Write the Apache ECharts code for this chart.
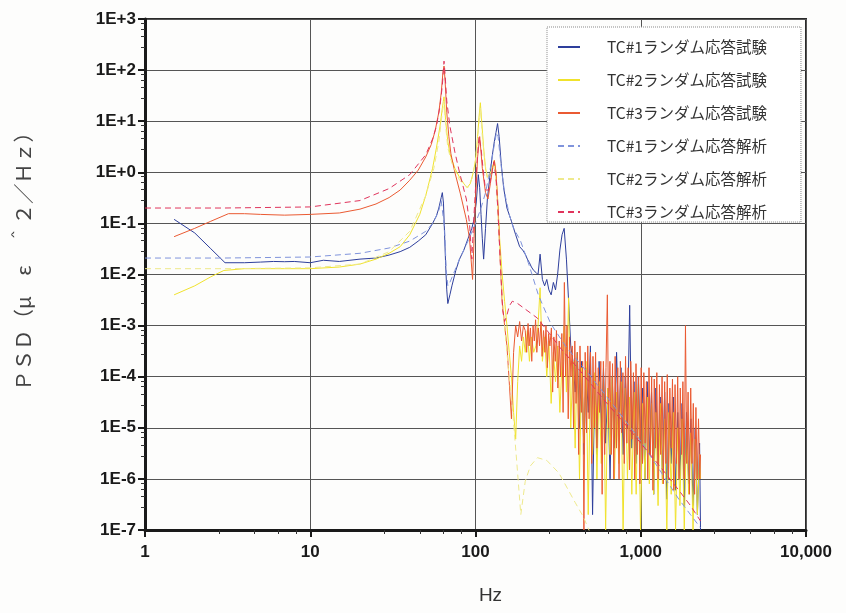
<!DOCTYPE html>
<html>
<head>
<meta charset="utf-8">
<script src="https://cdn.jsdelivr.net/npm/echarts@6/dist/echarts.min.js"></script>
<style>
html,body{margin:0;padding:0;background:#fdfdfc;}
#chart{width:846px;height:613px;}
</style>
</head>
<body>
<div id="chart"></div>
<script>
// ---- tick labels ----
const xTickLabels = ['1', '10', '100', '1,000', '10,000'];      // 10^0 .. 10^4
const yTickLabels = ['1E-7', '1E-6', '1E-5', '1E-4', '1E-3', '1E-2', '1E-1', '1E+0', '1E+1', '1E+2', '1E+3'];
const seriesNames = ['TC#1ランダム応答試験', 'TC#2ランダム応答試験', 'TC#3ランダム応答試験',
                     'TC#1ランダム応答解析', 'TC#2ランダム応答解析', 'TC#3ランダム応答解析'];

// ---- test data, smooth low-frequency part ----
const tc1TestF = [1.5, 2, 2.5, 3.05, 4, 5, 6, 7, 8, 10, 12, 15, 20, 25, 30, 35, 40, 45, 50, 55, 58, 60, 62, 63, 64, 65, 66, 67, 68, 70, 72, 76, 80, 85, 90, 95, 98, 101, 104, 106, 108, 110, 112, 115, 118, 122, 126, 130, 133, 136, 139, 143, 148, 155, 165, 175, 185, 193];
const tc1TestV = [0.12, 0.065, 0.032, 0.017, 0.017, 0.0175, 0.018, 0.0178, 0.018, 0.017, 0.019, 0.018, 0.02, 0.021, 0.024, 0.028, 0.034, 0.045, 0.06, 0.1, 0.14, 0.2, 0.32, 0.4, 0.25, 0.06, 0.015, 0.005, 0.0027, 0.004, 0.006, 0.012, 0.02, 0.03, 0.05, 0.08, 0.12, 0.25, 0.9, 0.5, 0.15, 0.05, 0.02, 0.08, 0.3, 0.8, 2, 4, 6, 9, 5, 1.5, 0.5, 0.2, 0.11, 0.06, 0.035, 0.03];

const tc2TestF = [1.5, 2, 2.5, 3, 4, 5, 7, 10, 15, 20, 25, 30, 35, 40, 46, 50, 55, 58, 61, 63, 64.5, 66, 68, 70, 75, 80, 85, 89, 93, 97, 100, 103, 105, 107, 109, 112, 115, 118, 122, 126, 130, 133, 136, 140, 145, 150, 155, 160, 165, 170, 175, 180, 185, 190, 195];
const tc2TestV = [0.004, 0.006, 0.009, 0.012, 0.013, 0.013, 0.013, 0.013, 0.014, 0.016, 0.02, 0.026, 0.035, 0.06, 0.15, 0.35, 1.2, 3, 8, 18, 30, 10, 4, 2.3, 1.2, 0.8, 0.6, 0.5, 0.6, 1.0, 1.7, 5, 12, 23, 10, 3, 1.2, 0.8, 0.9, 1.2, 1.7, 1.0, 0.3, 0.05, 0.01, 3e-3, 1e-3, 3e-4, 1e-4, 2e-5, 6e-6, 8e-5, 4e-4, 2e-4, 6e-4];

const tc3TestF = [1.5, 2, 2.5, 3.2, 4, 5, 7, 10, 15, 20, 25, 30, 35, 40, 45, 50, 54, 57, 60, 62, 63.5, 64.5, 65.5, 67, 69, 71, 75, 81, 88, 92, 94, 96, 98, 100, 103, 106, 108, 110, 115, 119, 123, 127, 130, 133, 137, 141, 145, 150, 155, 160, 165, 170, 175, 180, 185, 190, 195];
const tc3TestV = [0.055, 0.08, 0.11, 0.155, 0.155, 0.15, 0.145, 0.15, 0.16, 0.19, 0.24, 0.32, 0.45, 0.7, 1.1, 2, 3.5, 6.5, 15, 35, 90, 120, 60, 15, 5, 2.3, 1.0, 0.38, 0.12, 0.05, 0.02, 0.008, 0.05, 0.3, 2, 5, 2.5, 1.2, 0.4, 0.3, 0.6, 1.2, 1.7, 1.0, 0.2, 0.02, 3e-3, 1e-3, 4e-4, 8e-5, 1.5e-5, 3e-4, 1e-3, 6e-4, 1.2e-3, 5e-4, 1e-3];

// ---- test data, noisy high-frequency part ----
const noiseF = [200, 206, 212, 218, 225, 232, 239, 246, 254, 262, 270, 278, 287, 296, 305, 314, 324, 334, 344, 355,
  366, 377, 389, 401, 413, 426, 439, 453, 467, 481, 496, 511, 527, 543, 560, 577, 595, 613, 632, 652,
  672, 693, 714, 736, 759, 782, 806, 831, 857, 883, 910, 938, 967, 997, 1028, 1060, 1093, 1127, 1162, 1198,
  1235, 1273, 1312, 1353, 1395, 1438, 1482, 1528, 1575, 1624, 1674, 1726, 1779, 1834, 1891, 1950, 2010, 2072, 2136, 2202, 2270, 2300];
const tc1NoiseV = [0.025, 0.02, 0.017, 0.014, 0.012, 0.011, 0.01, 0.025, 0.008, 0.006,
  0.008, 0.005, 0.004, 0.007, 0.005, 0.01, 0.03, 0.06, 0.08, 0.02,
  0.003, 4e-4, 2e-4, 5e-5, 3e-4, 1e-5, 2e-4, 3e-6, 1.5e-4, 2e-5,
  4e-4, 2e-7, 1e-4, 3e-6, 2e-4, 1e-5, 1.5e-4, 5e-6, 6e-5, 1e-6,
  1e-4, 4e-6, 3e-4, 1e-5, 1.5e-4, 3e-6, 1e-4, 1e-5, 2.5e-3, 4e-6,
  8e-5, 2e-6, 1e-4, 5e-6, 6e-5, 1e-6, 8e-5, 3e-6, 5e-5, 5e-7,
  6e-5, 2e-6, 4e-5, 1e-6, 5e-5, 4e-7, 3e-5, 2e-6, 4e-5, 6e-7,
  2e-5, 1e-6, 3e-5, 3e-7, 2e-5, 8e-7, 1.5e-5, 3e-7, 1e-5, 2e-7, 5e-6, 1e-7];
const tc2NoiseV = [3e-4, 8e-4, 2e-4, 6e-4, 3e-4, 4e-4, 1e-3, 5.5e-3, 2e-4, 6e-4,
  1e-4, 5e-4, 3e-5, 3e-4, 8e-5, 4e-4, 2e-5, 2e-4, 1e-3, 5e-5,
  3.5e-3, 1e-5, 2e-4, 4e-6, 3e-4, 1e-6, 1.5e-4, 5e-6, 2e-4, 2e-7,
  1e-4, 3e-6, 1.2e-4, 1e-6, 8e-5, 2e-6, 1e-4, 1e-7, 6e-5, 3e-6,
  1e-4, 1e-6, 5e-5, 2e-6, 8e-5, 1e-7, 6e-5, 1e-6, 4e-5, 5e-7,
  5e-5, 5e-7, 7e-5, 1e-7, 3e-5, 1e-6, 4e-5, 8e-7, 3e-5, 5e-7,
  2e-5, 3e-7, 3e-5, 8e-7, 1.5e-5, 1e-7, 2e-5, 5e-7, 2e-5, 1e-7,
  1e-5, 3e-7, 1.5e-5, 1e-7, 1e-5, 5e-7, 8e-6, 1e-7, 6e-6, 2e-7, 3e-6, 1e-6];

// TC#3 test has its own, finer frequency list in the noisy band
const noise3F = [200, 204, 208, 211, 215, 219, 223, 227, 231, 235,
  240, 244, 249, 253, 258, 263, 267, 272, 277, 282,
  288, 293, 298, 304, 309, 315, 321, 327, 333, 339,
  345, 351, 358, 364, 371, 378, 385, 392, 399, 406,
  414, 421, 429, 437, 445, 453, 461, 470, 478, 487,
  496, 505, 514, 524, 533, 543, 553, 563, 573, 584,
  594, 605, 616, 628, 639, 651, 663, 675, 687, 700,
  713, 726, 739, 753, 766, 780, 795, 809, 824, 839,
  855, 870, 886, 903, 919, 936, 953, 971, 988, 1006,
  1025, 1044, 1063, 1082, 1102, 1122, 1143, 1164, 1185, 1207,
  1229, 1251, 1274, 1298, 1321, 1346, 1370, 1395, 1421, 1447,
  1473, 1500, 1528, 1556, 1584, 1613, 1643, 1673, 1703, 1735,
  1766, 1799, 1832, 1865, 1899, 1934, 1970, 2006, 2042, 2080,
  2118, 2157, 2196, 2236, 2277, 2300];
const tc3NoiseV = [8e-4, 3e-4, 1.1e-3, 4e-4, 9e-4, 2e-4, 1e-3, 5e-4, 1.3e-3, 3e-4,
  9e-4, 4e-4, 1.2e-3, 2.5e-4, 8e-4, 3e-4, 1e-3, 1.5e-4, 7e-4, 4e-4,
  9e-4, 5e-5, 6e-4, 2e-4, 8e-4, 6e-5, 5e-4, 1e-4, 7e-4, 2e-5,
  7e-3, 1e-4, 1e-3, 1.5e-5, 6e-4, 1e-4, 4e-4, 1e-5, 5e-4, 3e-5,
  3e-4, 3e-6, 4e-4, 2e-5, 2e-4, 1e-7, 3e-4, 8e-6, 4e-4, 1.5e-5,
  3e-4, 2e-6, 2.5e-4, 1e-5, 3e-4, 4e-6, 1.5e-4, 2e-5, 2e-4, 5e-7,
  2e-4, 3e-6, 1.5e-4, 4e-3, 1e-5, 2e-4, 3e-6, 1.8e-4, 1e-6, 2.5e-4,
  4e-6, 1.5e-4, 1e-6, 2e-4, 8e-6, 1.2e-4, 2e-6, 2.5e-4, 5e-6, 1.5e-4,
  1.5e-6, 2e-4, 6e-6, 1.2e-4, 1e-6, 1.8e-4, 3e-6, 1e-4, 8e-7, 1.5e-4,
  2e-6, 1.2e-4, 5e-6, 8e-5, 1e-6, 1.5e-4, 3e-6, 1e-4, 6e-7, 9e-5,
  4e-6, 1.2e-4, 1e-6, 7e-5, 3e-6, 1e-4, 8e-7, 8e-5, 2e-6, 1.1e-4,
  1e-6, 6e-5, 4e-6, 9e-5, 6e-7, 7e-5, 2e-6, 1e-4, 1e-6, 6e-5,
  3e-6, 8e-5, 1e-6, 1e-3, 2e-6, 5e-5, 5e-7, 6e-5, 2e-6, 3e-5,
  5e-7, 2.5e-5, 1e-6, 1.5e-5, 1e-6, 3e-6];

// ---- analysis data ----
const tc1AnaF = [1, 3, 10, 20, 30, 40, 50, 55, 58, 60, 62, 63.5, 65, 66.5, 68, 70, 75, 80, 90, 100, 108, 115, 120, 125, 130, 134, 137, 140, 145, 150, 160, 170, 187, 210, 240, 271, 285, 350, 500, 700, 960, 1300, 1700, 2000, 2300];
const tc1AnaV = [0.021, 0.021, 0.022, 0.026, 0.033, 0.045, 0.07, 0.1, 0.14, 0.18, 0.28, 0.3, 0.08, 0.012, 0.006, 0.007, 0.012, 0.02, 0.045, 0.1, 0.2, 0.4, 0.8, 1.6, 3.5, 6, 5, 2.5, 0.9, 0.4, 0.15, 0.08, 0.046, 0.016, 0.004, 1.6e-3, 1.1e-3, 4e-4, 1e-4, 2.5e-5, 6.6e-6, 1.5e-6, 4e-7, 2e-7, 1.1e-7];

const tc2AnaF = [1, 3, 10, 20, 30, 40, 50, 56, 60, 63, 64.5, 66, 68, 72, 80, 90, 96, 100, 104, 107, 110, 114, 118, 124, 130, 134, 140, 148, 158, 168, 178, 188, 200, 215, 237, 270, 320, 400, 450, 500];
const tc2AnaV = [0.013, 0.013, 0.0135, 0.016, 0.028, 0.07, 0.35, 1.2, 4, 15, 25, 8, 3, 1.5, 0.7, 0.5, 0.8, 1.8, 6, 18, 5, 1.5, 0.8, 1.0, 1.4, 0.5, 0.03, 1.5e-3, 1.5e-4, 2e-5, 2e-6, 2e-7, 9e-7, 1.8e-6, 2.6e-6, 2.3e-6, 1.3e-6, 3.5e-7, 1.8e-7, 8e-8];

const tc3AnaF = [1, 3, 10, 20, 30, 40, 50, 55, 58, 61, 63, 64.5, 65.5, 67, 70, 75, 80, 88, 92, 95, 98, 102, 105, 108, 111, 115, 120, 125, 129, 133, 137, 141, 146, 150, 155, 160, 167, 180, 200, 237, 280, 325, 430, 600, 800, 1000, 1300, 1700, 2000, 2300];
const tc3AnaV = [0.2, 0.2, 0.21, 0.28, 0.48, 0.9, 2.2, 4.5, 8, 20, 50, 150, 80, 25, 8, 2.5, 1.0, 0.3, 0.1, 0.02, 0.15, 1.5, 5, 3, 1.2, 0.45, 0.45, 0.9, 1.6, 0.8, 0.15, 0.02, 2e-3, 1.2e-3, 1.6e-3, 2.4e-3, 3e-3, 2.7e-3, 2.1e-3, 1.4e-3, 7e-4, 3.7e-4, 1.3e-4, 3.5e-5, 1.2e-5, 5e-6, 1.8e-6, 6e-7, 3e-7, 1.5e-7];

const colors = ['#2e3f9c', '#f0e22c', '#ea5a32', '#8094dc', '#eee98c', '#e0345c'];

function pairs(f, v) { return f.map((x, i) => [x, v[i]]); }
const seriesData = [
  pairs(tc1TestF.concat(noiseF), tc1TestV.concat(tc1NoiseV)),
  pairs(tc2TestF.concat(noiseF), tc2TestV.concat(tc2NoiseV)),
  pairs(tc3TestF.concat(noise3F), tc3TestV.concat(tc3NoiseV)),
  pairs(tc1AnaF, tc1AnaV),
  pairs(tc2AnaF, tc2AnaV),
  pairs(tc3AnaF, tc3AnaV)
];

const chart = echarts.init(document.getElementById('chart'), null, {renderer: 'canvas'});
const labelFont = {fontFamily: 'Liberation Sans, Arial, sans-serif', fontWeight: 'bold', fontSize: 17, color: '#1a1a1a'};

chart.setOption({
  backgroundColor: '#fdfdfc',
  animation: false,
  grid: {left: 145, right: 40, top: 19, bottom: 83, show: true, borderColor: '#2a2a2a', borderWidth: 2, backgroundColor: 'transparent'},
  legend: {
    orient: 'vertical', left: 547, top: 27,
    padding: [12, 34, 2, 10], itemGap: 17, itemWidth: 22, itemHeight: 14,
    backgroundColor: '#ffffff', borderColor: '#8a8a8a', borderWidth: 1, borderType: 'dotted',
    itemStyle: {opacity: 0},
    textStyle: {fontFamily: 'Noto Sans CJK JP', fontSize: 15.5, lineHeight: 16, color: '#333', padding: [0, 0, 0, 22]},
    data: seriesNames
  },
  xAxis: {
    type: 'log', logBase: 10, min: 1, max: 10000, interval: 1, splitNumber: 4,
    name: 'Hz', nameLocation: 'middle', nameGap: 56,
    nameTextStyle: {fontFamily: 'Liberation Sans, Arial, sans-serif', fontSize: 19, color: '#333', padding: [0, 0, 0, 30]},
    axisLine: {show: true, lineStyle: {color: '#1a1a1a', width: 3}},
    axisTick: {show: true, length: 7, lineStyle: {color: '#1a1a1a', width: 2}},
    minorTick: {show: true, splitNumber: 5, length: 4, lineStyle: {color: '#333', width: 1}},
    splitLine: {show: true, lineStyle: {color: '#555', width: 1}},
    axisLabel: Object.assign({margin: 14, formatter: v => xTickLabels[Math.round(Math.log10(v))]}, labelFont)
  },
  yAxis: {
    type: 'log', logBase: 10, min: 1e-7, max: 1e3, interval: 1, splitNumber: 10,
    name: 'ＰＳＤ（μ　ε　＾２／Ｈｚ）', nameLocation: 'middle', nameGap: 112, nameRotate: 90,
    nameTextStyle: {fontFamily: 'Noto Sans CJK JP', fontSize: 20.5, color: '#444', padding: [0, 0, 0, 36]},
    axisLine: {show: true, lineStyle: {color: '#1a1a1a', width: 3}},
    axisTick: {show: true, length: 7, lineStyle: {color: '#1a1a1a', width: 2}},
    minorTick: {show: true, splitNumber: 5, length: 4, lineStyle: {color: '#333', width: 1}},
    splitLine: {show: true, lineStyle: {color: '#555', width: 1}},
    axisLabel: Object.assign({margin: 9, formatter: v => yTickLabels[Math.round(Math.log10(v)) + 7]}, labelFont)
  },
  series: seriesNames.map((name, i) => ({
    name: name,
    type: 'line',
    data: seriesData[i],
    showSymbol: false,
    symbol: 'none',
    clip: true,
    color: colors[i],
    lineStyle: {width: 1, color: colors[i], type: i >= 3 ? [6, 4] : 'solid'},
    z: 2 + i
  }))
});
</script>
</body>
</html>
